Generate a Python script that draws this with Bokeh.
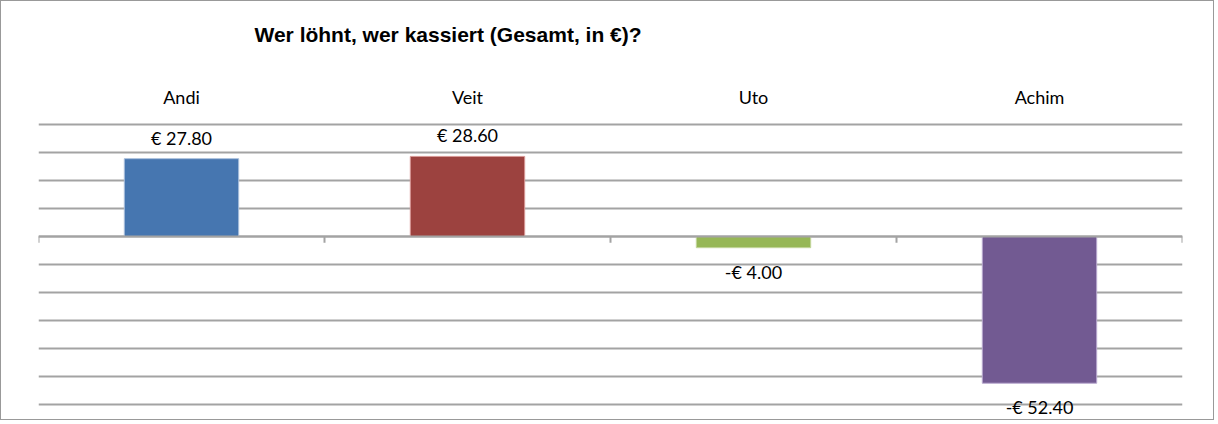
from bokeh.plotting import figure
from bokeh.models import ColumnDataSource, FixedTicker, Span
from bokeh.core.properties import value
from bokeh.embed import file_html
from bokeh.resources import INLINE

# ---- data ----
title_text = "Wer löhnt, wer kassiert (Gesamt, in €)?"
categories = ["Andi", "Veit", "Uto", "Achim"]
values = [27.80, 28.60, -4.00, -52.40]
bar_colors = ["#4676b0", "#9c423f", "#96b756", "#725a92"]
bar_edges = ["#a9bfdc", "#d99896", "#c3d69b", "#b9a9cf"]
grid_ticks = [-60, -50, -40, -30, -20, -10, 0, 10, 20, 30, 40]

xs = [i + 0.5 for i in range(len(categories))]
labels = [("€ %.2f" % v) if v >= 0 else ("-€ %.2f" % abs(v)) for v in values]
offsets = [-21 if v >= 0 else 24 for v in values]

src = ColumnDataSource(dict(x=xs, top=values, color=bar_colors, edge=bar_edges,
                            label=labels, yoff=offsets))

# layout: the frame covers the full height; grid only spans -60..40
H = 420
PPU = 2.8            # pixels per euro
GRID_TOP_PX = 123    # canvas y of the top grid line
ytop = max(grid_ticks)
Y1 = ytop + GRID_TOP_PX / PPU
Y0 = Y1 - H / PPU

p = figure(width=1214, height=H, x_range=(0, len(categories)), y_range=(Y0, Y1),
           output_backend="svg", toolbar_location=None, x_axis_location=None,
           y_axis_location=None, min_border=0, min_border_left=37, min_border_right=33,
           min_border_top=0, min_border_bottom=0,
           styles={"border": "1px solid #999999"})

p.outline_line_color = None
p.background_fill_color = "white"
p.border_fill_color = "white"

p.xgrid.visible = False
p.ygrid.ticker = FixedTicker(ticks=grid_ticks)
p.ygrid.grid_line_color = "#a3a3a3"
p.ygrid.grid_line_width = 2

p.vbar(x="x", top="top", bottom=0, width=0.4, fill_color="color", line_color="edge",
       line_width=1, source=src)

# zero line and category boundary ticks
p.add_layout(Span(location=0, dimension="width", line_color="#a3a3a3", line_width=2))
bounds = list(range(len(categories) + 1))
p.segment(x0=bounds, x1=bounds, y0=[0] * len(bounds), y1=[-2.2] * len(bounds),
          line_color="#a3a3a3", line_width=2)

# value labels
p.text(x="x", y="top", text="label", y_offset="yoff", source=src,
       text_align="center", text_baseline="middle", text_font=value("Lato"),
       text_font_size="18px", text_color="black")

# category labels above the grid
p.text(x=xs, y=[ytop] * len(xs), text=categories, y_offset=-28,
       text_align="center", text_baseline="middle", text_font=value("Lato"),
       text_font_size="18px", text_color="black")

# chart title
p.text(x=[0], y=[ytop], text=[title_text], x_offset=216, y_offset=-90,
       text_align="left", text_baseline="middle", text_font=value("Liberation Sans"),
       text_font_size="21px", text_font_style="bold", text_color="black")

open("out.html", "w").write(file_html(p, INLINE))
